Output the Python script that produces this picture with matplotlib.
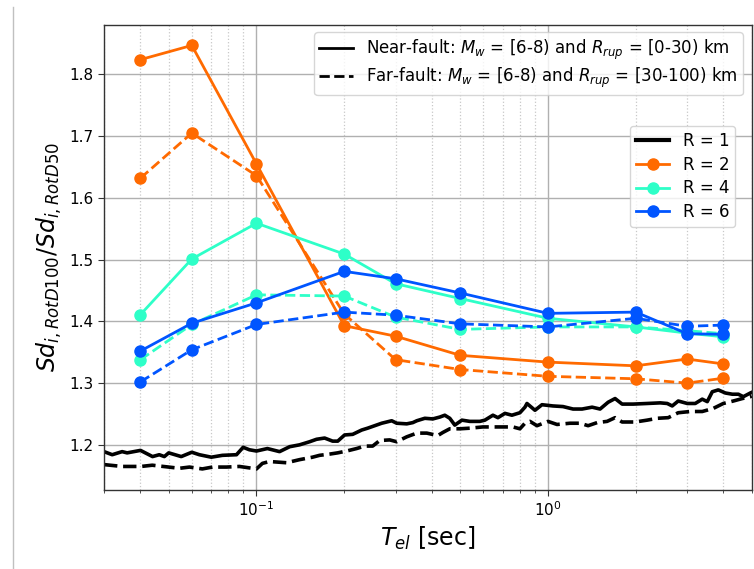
import matplotlib
matplotlib.use("Agg")
import matplotlib.pyplot as plt
from matplotlib.lines import Line2D

# ---------------- data ----------------
T_pts = [0.04, 0.06, 0.1, 0.2, 0.3, 0.5, 1.0, 2.0, 3.0, 4.0]

r2_near = [1.824, 1.847, 1.655, 1.393, 1.376, 1.345, 1.334, 1.328, 1.339, 1.331]
r2_far  = [1.632, 1.705, 1.636, 1.412, 1.338, 1.322, 1.311, 1.307, 1.300, 1.308]
r4_near = [1.411, 1.501, 1.559, 1.509, 1.461, 1.437, 1.405, 1.391, 1.381, 1.375]
r4_far  = [1.338, 1.395, 1.443, 1.441, 1.407, 1.387, 1.391, 1.391, 1.385, 1.380]
r6_near = [1.352, 1.397, 1.430, 1.481, 1.469, 1.446, 1.413, 1.415, 1.380, 1.379]
r6_far  = [1.302, 1.354, 1.395, 1.415, 1.410, 1.396, 1.391, 1.405, 1.392, 1.394]

r1_near_T = [0.030, 0.032, 0.0346, 0.036, 0.040, 0.044, 0.0464, 0.0483, 0.050, 0.0552,
             0.060, 0.0637, 0.070, 0.0764, 0.0854, 0.090, 0.0946, 0.100, 0.109, 0.120,
             0.130, 0.1405, 0.1521, 0.1607, 0.1713, 0.1825, 0.190, 0.2006, 0.2138, 0.2296,
             0.2407, 0.2544, 0.2689, 0.291, 0.3027, 0.3277, 0.3437, 0.3548, 0.378, 0.4025,
             0.4255, 0.4426, 0.4604, 0.479, 0.5066, 0.5395, 0.5839, 0.6075, 0.6473, 0.6734,
             0.7117, 0.752, 0.8011, 0.8337, 0.847, 0.9024, 0.9537, 1.040, 1.126, 1.219,
             1.309, 1.417, 1.509, 1.608, 1.699, 1.796, 1.960, 2.189, 2.427, 2.565,
             2.668, 2.798, 3.005, 3.200, 3.382, 3.519, 3.661, 3.839, 4.058, 4.290,
             4.498, 4.679, 4.946, 5.0]
r1_near = [1.189, 1.184, 1.189, 1.187, 1.191, 1.181, 1.184, 1.181, 1.187, 1.181,
           1.188, 1.184, 1.180, 1.183, 1.184, 1.196, 1.192, 1.190, 1.194, 1.189,
           1.197, 1.200, 1.205, 1.209, 1.211, 1.206, 1.206, 1.216, 1.217, 1.224,
           1.227, 1.231, 1.235, 1.239, 1.235, 1.234, 1.236, 1.239, 1.243, 1.242,
           1.245, 1.248, 1.243, 1.232, 1.240, 1.238, 1.238, 1.240, 1.248, 1.244,
           1.251, 1.248, 1.252, 1.261, 1.267, 1.256, 1.265, 1.263, 1.262, 1.258,
           1.258, 1.261, 1.258, 1.269, 1.275, 1.266, 1.266, 1.267, 1.268, 1.267,
           1.263, 1.271, 1.267, 1.267, 1.274, 1.270, 1.286, 1.289, 1.284, 1.282,
           1.282, 1.278, 1.284, 1.285]

r1_far_T = [0.030, 0.0346, 0.0402, 0.0439, 0.050, 0.0544, 0.0589, 0.0652, 0.0706, 0.0789,
            0.0874, 0.100, 0.1048, 0.1108, 0.1268, 0.1405, 0.1557, 0.1646, 0.1782, 0.1898,
            0.2038, 0.2206, 0.2351, 0.2504, 0.2647, 0.2864, 0.3027, 0.3277, 0.3548, 0.384,
            0.4188, 0.4357, 0.4604, 0.4986, 0.5395, 0.5979, 0.6681, 0.7117, 0.758, 0.8011,
            0.8337, 0.8674, 0.9168, 1.000, 1.074, 1.190, 1.288, 1.373, 1.474, 1.595,
            1.699, 1.796, 1.991, 2.189, 2.370, 2.585, 2.798, 3.076, 3.382, 3.690,
            3.994, 4.323, 4.643, 4.946, 5.0]
r1_far = [1.168, 1.165, 1.165, 1.167, 1.164, 1.162, 1.164, 1.161, 1.164, 1.164,
          1.165, 1.161, 1.170, 1.173, 1.171, 1.176, 1.180, 1.183, 1.185, 1.187,
          1.190, 1.194, 1.198, 1.198, 1.207, 1.208, 1.205, 1.213, 1.219, 1.219,
          1.215, 1.220, 1.226, 1.226, 1.227, 1.229, 1.229, 1.229, 1.229, 1.226,
          1.235, 1.238, 1.231, 1.238, 1.233, 1.235, 1.235, 1.231, 1.236, 1.238,
          1.244, 1.237, 1.237, 1.240, 1.243, 1.244, 1.252, 1.254, 1.254, 1.259,
          1.267, 1.271, 1.275, 1.278, 1.279]

c_orange = "#ff6a00"
c_turq = "#2effc8"
c_blue = "#0055ff"

# ---------------- figure ----------------
fig = plt.figure(figsize=(7.54, 5.69), dpi=100)
ax = fig.add_axes([0.138, 0.139, 0.859, 0.817])

lw_c = 2.0
ms = 8

ax.plot(r1_near_T, r1_near, color="black", lw=2.6, ls="-")
ax.plot(r1_far_T, r1_far, color="black", lw=2.6, ls="--")

ax.plot(T_pts, r2_near, color=c_orange, lw=lw_c, marker="o", ms=ms, ls="-")
ax.plot(T_pts, r2_far, color=c_orange, lw=lw_c, marker="o", ms=ms, ls="--")
ax.plot(T_pts, r4_near, color=c_turq, lw=lw_c, marker="o", ms=ms, ls="-")
ax.plot(T_pts, r4_far, color=c_turq, lw=lw_c, marker="o", ms=ms, ls="--")
ax.plot(T_pts, r6_near, color=c_blue, lw=lw_c, marker="o", ms=ms, ls="-")
ax.plot(T_pts, r6_far, color=c_blue, lw=lw_c, marker="o", ms=ms, ls="--")

ax.set_xscale("log")
ax.set_xlim(0.03, 5.0)
ax.set_ylim(1.127, 1.880)
ax.set_yticks([1.2, 1.3, 1.4, 1.5, 1.6, 1.7, 1.8])

ax.grid(True, which="major", color="#b0b0b0", lw=1.0, ls="-")
ax.grid(True, which="minor", axis="x", color="#c8c8c8", lw=0.9, ls=":")
ax.set_axisbelow(True)

for s in ax.spines.values():
    s.set_color("#333333")
    s.set_linewidth(1.0)
ax.tick_params(axis="both", which="major", labelsize=11, length=4, color="#333333")
ax.tick_params(axis="x", which="minor", length=2.5, color="#333333")

ax.set_xlabel(r"$T_{el}$ [sec]", fontsize=17)
ax.set_ylabel(r"$Sd_{i,RotD100}/Sd_{i,RotD50}$", fontsize=17)

# legends
h1 = [Line2D([], [], color="black", lw=2, ls="-"),
      Line2D([], [], color="black", lw=2, ls="--")]
l1 = [r"Near-fault: $M_w$ = [6-8) and $R_{rup}$ = [0-30) km",
      r"Far-fault: $M_w$ = [6-8) and $R_{rup}$ = [30-100) km"]
leg1 = ax.legend(h1, l1, loc="upper right", fontsize=12, framealpha=0.8,
                 bbox_to_anchor=(0.999, 1.002), handlelength=2.0,
                 labelspacing=0.25, borderpad=0.3)
ax.add_artist(leg1)

h2 = [Line2D([], [], color="black", lw=3),
      Line2D([], [], color=c_orange, lw=lw_c, marker="o", ms=ms),
      Line2D([], [], color=c_turq, lw=lw_c, marker="o", ms=ms),
      Line2D([], [], color=c_blue, lw=lw_c, marker="o", ms=ms)]
l2 = ["R = 1", "R = 2", "R = 4", "R = 6"]
ax.legend(h2, l2, loc="upper right", fontsize=12, framealpha=0.8,
          bbox_to_anchor=(0.987, 0.801), handlelength=2.0,
          labelspacing=0.35, borderpad=0.35)

fig.add_artist(Line2D([13 / 754, 13 / 754], [1 - 7 / 569, 0.0],
                      transform=fig.transFigure, color="#c0c0c0", lw=1.0))

fig.savefig("out.png", dpi=100)
